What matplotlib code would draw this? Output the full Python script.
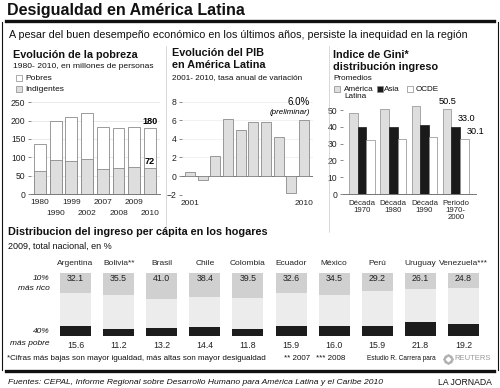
import numpy as np
import matplotlib
matplotlib.use("Agg")
import matplotlib.pyplot as plt
from matplotlib.lines import Line2D
from matplotlib.patches import Rectangle

plt.rcParams['font.family'] = ['Liberation Sans', 'DejaVu Sans']

# Datos
pobreza_anios = ["1980", "1990", "1999", "2002", "2007", "2008", "2009", "2010"]
pobres = [136, 198, 210, 220, 184, 180, 182, 180]
indigentes = [62, 92, 89, 96, 68, 71, 73, 72]

pib_anios = ["2001", "2002", "2003", "2004", "2005", "2006", "2007", "2008", "2009", "2010"]
pib = [0.4, -0.4, 2.2, 6.1, 4.9, 5.8, 5.8, 4.2, -1.8, 6.0]

gini_grupos = ["Década\n1970", "Década\n1980", "Década\n1990", "Periodo\n1970-\n2000"]
gini_al = [48.4, 50.6, 52.6, 50.5]
gini_asia = [40.1, 40.1, 41.1, 40.1]
gini_ocde = [32.1, 32.5, 34.1, 32.5]
gini_etiquetas = ["50.5", "33.0", "30.1"]

paises = ["Argentina", "Bolivia**", "Brasil", "Chile", "Colombia", "Ecuador",
          "México", "Perú", "Uruguay", "Venezuela***"]
rico10 = [32.1, 35.5, 41.0, 38.4, 39.5, 32.6, 34.5, 29.2, 26.1, 24.8]
pobre40 = [15.6, 11.2, 13.2, 14.4, 11.8, 15.9, 16.0, 15.9, 21.8, 19.2]

W, H = 500, 388
fig = plt.figure(figsize=(W / 100, H / 100), dpi=100)


def fx(x):
    return x / W


def fy(y):
    return 1 - y / H


def txt(x, y, s, **kw):
    kw.setdefault("va", "center")
    kw.setdefault("color", "#111111")
    fig.text(fx(x), fy(y), s, **kw)


def linea(x0, y0, x1, y1, lw=0.8, color="#111111"):
    fig.add_artist(Line2D([fx(x0), fx(x1)], [fy(y0), fy(y1)],
                          transform=fig.transFigure, lw=lw, color=color))


def add_ax(l, t, r, b):
    return fig.add_axes([l / W, 1 - b / H, (r - l) / W, (b - t) / H])


def cuadro(x, y, color):
    fig.add_artist(Rectangle((fx(x), fy(y + 3)), 6 / W, 6 / H, transform=fig.transFigure,
                             facecolor=color, edgecolor="#888888", lw=0.5))


def estilo(ax):
    for s in ["top", "right", "left"]:
        ax.spines[s].set_visible(False)
    ax.spines["bottom"].set_color("#777777")
    ax.spines["bottom"].set_linewidth(0.7)
    ax.tick_params(axis="y", length=2.5, width=0.6, color="#777777", labelsize=6.2,
                   pad=1.5, labelcolor="#222222")
    ax.tick_params(axis="x", length=0, labelsize=6.0, labelcolor="#222222")
    ax.set_facecolor("none")


# Marco y cabecera
txt(7, 11, "Desigualdad en América Latina", fontsize=11.5, fontweight="bold")
linea(6, 21, 494, 21, lw=2.4)
linea(1.5, 22, 1.5, 370, lw=0.8)
linea(497.5, 22, 497.5, 370, lw=0.8)
linea(6, 371, 494, 371, lw=2.4)
txt(9, 35, "A pesar del buen desempeño económico en los últimos años, persiste la inequidad en la región",
    fontsize=7.75)
linea(166, 46, 166, 232, lw=0.4, color="#bbbbbb")
linea(329, 46, 329, 232, lw=0.4, color="#bbbbbb")

# Evolución de la pobreza
txt(13, 55, "Evolución de la pobreza", fontsize=7.8, fontweight="bold")
txt(13, 66.5, "1980- 2010, en millones de personas", fontsize=6.1)
cuadro(16, 78, "white")
txt(25, 78.5, "Pobres", fontsize=6)
cuadro(16, 89, "#dedede")
txt(25, 89.5, "Indigentes", fontsize=6)

ax1 = add_ax(31, 102.3, 160, 194)
x1 = np.arange(len(pobres))
ax1.bar(x1, pobres, width=0.76, color="white", edgecolor="#8a8a8a", lw=0.6, zorder=2)
ax1.bar(x1, indigentes, width=0.76, color="#dedede", edgecolor="#8a8a8a", lw=0.6, zorder=3)
ax1.set_ylim(0, 250)
ax1.set_xlim(-0.57, 7.64)
ax1.set_yticks(range(0, 251, 50))
ax1.yaxis.grid(True, color="#e2e2e2", lw=0.5)
ax1.set_axisbelow(True)
ax1.set_xticks([])
estilo(ax1)
for i, a in enumerate(pobreza_anios):
    ax1.text(x1[i], -0.098 if i % 2 == 0 else -0.218, a, transform=ax1.get_xaxis_transform(),
             ha="center", va="center", fontsize=6.0, color="#222222")
ax1.text(x1[-1], pobres[-1] + 19, str(pobres[-1]), ha="center", va="center",
         fontsize=6.6, fontweight="bold", zorder=5)
ax1.text(x1[-1], indigentes[-1] + 16, str(indigentes[-1]), ha="center", va="center",
         fontsize=6.6, fontweight="bold", zorder=5)

# Evolución del PIB
txt(172, 53.5, "Evolución del PIB", fontsize=7.8, fontweight="bold")
txt(172, 65, "en América Latina", fontsize=7.8, fontweight="bold")
txt(172, 77.5, "2001- 2010, tasa anual de variación", fontsize=5.9)

ax2 = add_ax(182, 101.7, 313, 194.6)
x2 = np.arange(len(pib))
ax2.bar(x2, pib, width=0.79, color="#dedede", edgecolor="#8a8a8a", lw=0.6, zorder=2)
ax2.set_ylim(-2, 8)
ax2.set_xlim(-0.63, 9.71)
ax2.set_yticks(range(-2, 9, 2))
ax2.yaxis.grid(True, color="#ececec", lw=0.5)
ax2.set_axisbelow(True)
ax2.axhline(0, color="#777777", lw=0.7, zorder=1)
ax2.set_xticks([x2[0], x2[-1]])
ax2.set_xticklabels([pib_anios[0], pib_anios[-1]])
estilo(ax2)
ax2.spines["bottom"].set_visible(False)
ax2.tick_params(axis="x", pad=4)
ax2.text(x2[-1] + 0.45, 8.0, "%.1f%%" % pib[-1], ha="right", va="center", fontsize=7)
ax2.text(x2[-1] + 0.45, 6.85, "(preliminar)", ha="right", va="center", fontsize=5.8,
         style="italic")

# Indice de Gini
txt(333, 55, "Indice de Gini*", fontsize=7.8, fontweight="bold")
txt(333, 66.5, "distribución ingreso", fontsize=7.8, fontweight="bold")
txt(333, 79, "Promedios", fontsize=5.9)
cuadro(334, 89, "#dedede")
txt(344, 89.5, "América", fontsize=5.9)
txt(344, 96.8, "Latina", fontsize=5.9)
cuadro(377, 89, "#1a1a1a")
txt(384, 89.5, "Asia", fontsize=5.9)
cuadro(407, 89, "white")
txt(416, 89.5, "OCDE", fontsize=5.9)

ax3 = add_ax(343, 110, 476, 194)
x3 = np.arange(len(gini_al))
bw = 0.275
ax3.bar(x3 - bw, gini_al, width=bw, color="#dedede", edgecolor="#8a8a8a", lw=0.5, zorder=2,
        clip_on=False)
ax3.bar(x3, gini_asia, width=bw, color="#1a1a1a", edgecolor="#1a1a1a", lw=0.5, zorder=2,
        clip_on=False)
ax3.bar(x3 + bw, gini_ocde, width=bw, color="white", edgecolor="#8a8a8a", lw=0.5, zorder=2,
        clip_on=False)
ax3.set_ylim(0, 50)
ax3.set_xlim(-0.61, 3.65)
ax3.set_yticks(range(0, 51, 10))
ax3.set_xticks(x3)
ax3.set_xticklabels(gini_grupos, linespacing=1.05)
estilo(ax3)
ax3.tick_params(axis="x", pad=4, labelsize=5.6)
ax3.text(x3[-1] - bw, gini_al[-1] + 4.7, gini_etiquetas[0], ha="center", va="center",
         fontsize=6.6, clip_on=False)
ax3.text(x3[-1] + 0.05, gini_asia[-1] + 5.0, gini_etiquetas[1], ha="left", va="center",
         fontsize=6.6, clip_on=False)
ax3.text(x3[-1] + bw + 0.08, gini_ocde[-1] + 5.0, gini_etiquetas[2], ha="left", va="center",
         fontsize=6.6, clip_on=False)

# Distribución del ingreso
txt(8, 232, "Distribucion del ingreso per cápita en los hogares", fontsize=7.8, fontweight="bold")
txt(8, 246.5, "2009, total nacional, en %", fontsize=6.5)
txt(50, 278, "10%", fontsize=6, style="italic", ha="right")
txt(50, 288, "más rico", fontsize=6, style="italic", ha="right")
txt(50, 331.5, "40%", fontsize=6, style="italic", ha="right")
txt(50, 343.3, "más pobre", fontsize=6, style="italic", ha="right")

ax4 = add_ax(54, 272.7, 485, 336)
x4 = np.arange(len(paises))
rico = np.array(rico10)
pobre = np.array(pobre40)
medio = 100 - rico - pobre
ax4.bar(x4, pobre, width=0.72, color="#1c1c1c")
ax4.bar(x4, medio, bottom=pobre, width=0.72, color="#ececec")
ax4.bar(x4, rico, bottom=100 - rico, width=0.72, color="#d0d0d0")
ax4.set_xlim(-0.5, 9.5)
ax4.set_ylim(0, 100)
ax4.axis("off")
for i in range(len(paises)):
    ax4.text(x4[i], 115, paises[i], ha="center", va="center", fontsize=6, color="#222222",
             clip_on=False)
    ax4.text(x4[i], 91.5, "%.1f" % rico[i], ha="center", va="center", fontsize=6.3,
             color="#222222")
    ax4.text(x4[i], -14.3, "%.1f" % pobre[i], ha="center", va="center", fontsize=6.3,
             color="#222222", clip_on=False)

# Pie
txt(7, 359, "*Cifras más bajas son mayor igualdad, más altas son mayor desigualdad", fontsize=5.75)
txt(284, 359, "** 2007", fontsize=5.8)
txt(316, 359, "*** 2008", fontsize=5.8)
txt(367, 359, "Estudio R. Carrera para", fontsize=4.7)
ang = np.linspace(0, 2 * np.pi, 12, endpoint=False)
fig.add_artist(Line2D(fx(448 + 3.8 * np.cos(ang)), fy(359 + 3.8 * np.sin(ang)),
                      transform=fig.transFigure, ls="none", marker="o", ms=1.0,
                      color="#b0b0b0"))
txt(491, 359, "REUTERS", fontsize=5.5, ha="right", color="#9a9a9a")
txt(8, 382.5, "Fuentes: CEPAL, Informe Regional sobre Desarrollo Humano para América Latina y el Caribe 2010",
    fontsize=6.1, style="italic")
txt(492, 382.5, "LA JORNADA", fontsize=6.2, ha="right")

fig.savefig("out.png", dpi=100)
